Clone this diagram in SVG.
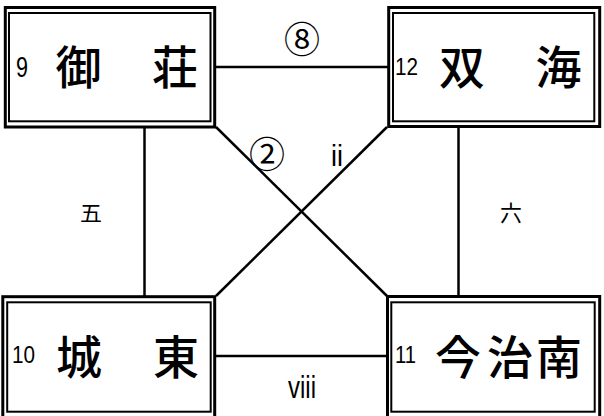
<svg xmlns="http://www.w3.org/2000/svg" width="604" height="416" viewBox="0 0 604 416">
<style>
.o{fill:#fff;stroke:#000;stroke-width:3}
.i{fill:none;stroke:#000;stroke-width:2}
.c{stroke:#000;stroke-width:2.5;fill:none}
.big{font-family:"Noto Sans CJK JP",sans-serif;font-size:46px;font-weight:500;text-anchor:middle;fill:#000}
.num{font-family:"Liberation Sans",sans-serif;fill:#000}
.lab{font-family:"Noto Sans CJK JP",sans-serif;text-anchor:middle;fill:#000}
</style>
<rect width="604" height="416" fill="#fff"/>
<g id="connectors">
<line class="c" x1="215" y1="67" x2="388" y2="67"/>
<line class="c" x1="215" y1="356" x2="388" y2="356"/>
<line class="c" x1="144.5" y1="127" x2="144.5" y2="297"/>
<line class="c" x1="458.5" y1="127" x2="458.5" y2="297"/>
<line class="c" x1="216" y1="127" x2="387" y2="296"/>
<line class="c" x1="387" y1="127" x2="216" y2="296"/>
<text class="lab" x="302" y="52.5" font-size="36">⑧</text>
<text class="lab" x="267" y="167.5" font-size="36">②</text>
<text class="num" x="331" y="166" font-size="29" textLength="12" lengthAdjust="spacingAndGlyphs">ii</text>
<text class="lab" x="91" y="221" font-size="22">五</text>
<text class="lab" x="511" y="221" font-size="22">六</text>
<text class="num" x="288" y="398" font-size="31" textLength="28" lengthAdjust="spacingAndGlyphs">viii</text>
</g>
<g id="node-9">
<rect class="o" x="5.3" y="7.5" width="209.4" height="119.5"/>
<rect class="i" x="9" y="13" width="201.5" height="108.3"/>
<text class="num" x="16" y="77" font-size="29" textLength="12" lengthAdjust="spacingAndGlyphs">9</text>
<text class="big" x="78.5" y="83.5">御</text>
<text class="big" x="175" y="83.5">荘</text>
</g>
<g id="node-12">
<rect class="o" x="388.7" y="7.5" width="211" height="119"/>
<rect class="i" x="393" y="13" width="201.3" height="108.3"/>
<text class="num" x="395" y="75" font-size="24" textLength="23" lengthAdjust="spacingAndGlyphs">12</text>
<text class="big" x="462" y="83.5">双</text>
<text class="big" x="558.5" y="83.5">海</text>
</g>
<g id="node-10">
<rect class="o" x="2.8" y="296.7" width="211.9" height="121"/>
<rect class="i" x="7.2" y="302.3" width="203.5" height="109.4"/>
<text class="num" x="12" y="363" font-size="24" textLength="23" lengthAdjust="spacingAndGlyphs">10</text>
<text class="big" x="79" y="373.5">城</text>
<text class="big" x="176" y="373.5">東</text>
</g>
<g id="node-11">
<rect class="o" x="387.5" y="296.5" width="212.2" height="121"/>
<rect class="i" x="391.3" y="302.3" width="203.4" height="109.4"/>
<text class="num" x="395" y="363" font-size="24" textLength="21" lengthAdjust="spacingAndGlyphs">11</text>
<text class="big" x="458" y="373.5">今</text>
<text class="big" x="510" y="373.5">治</text>
<text class="big" x="559" y="373.5">南</text>
</g>
</svg>
